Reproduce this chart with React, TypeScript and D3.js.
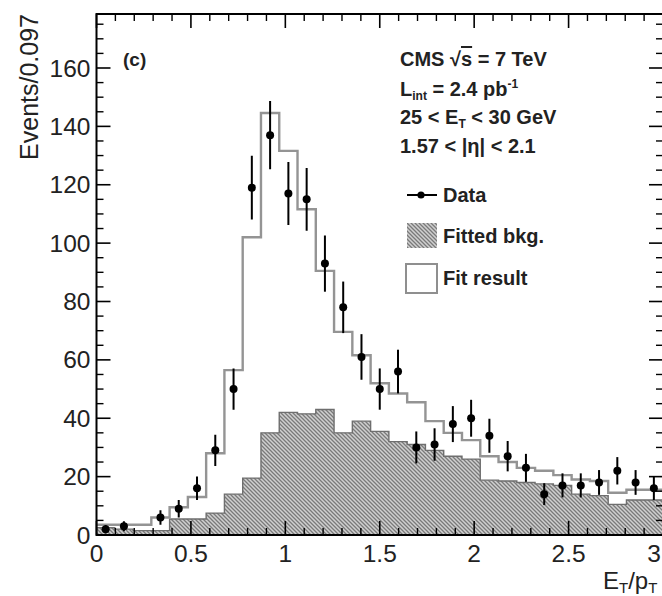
import React from "react";
import * as d3 from "d3";

// E_T/p_T distribution, 31 bins over [0, 3]
const xMin = 0;
const xMax = 3;
const nBins = 31;

// Observed events per bin
const events = [2, 3, 0, 6, 9, 16, 29, 50, 119, 137, 117, 115, 93, 78, 61, 50, 56, 30, 31, 38, 40, 34, 27, 23, 14, 17, 17, 18, 22, 18, 16];
// Total fit (signal + background) per bin
const fitTotal = [3.5, 3.5, 3.5, 6, 9.5, 13, 28, 56.5, 102, 144.6, 131.6, 111.6, 90.5, 69.6, 61.6, 52, 48.5, 45.5, 39, 35, 32.5, 27, 25, 23, 22, 20.5, 19, 18.5, 14.5, 15.5, 15.5];
// Fitted background per bin
const fittedBkg = [2.5, 2, 1.5, 1.5, 5.5, 5.5, 7.5, 14, 19.5, 35, 42, 41.5, 43, 35, 39, 35.5, 32, 31, 29, 27, 26, 18.8, 18.5, 18, 17.5, 17, 14, 13.5, 10.5, 12, 12];

const yTicks = [0, 20, 40, 60, 80, 100, 120, 140, 160];
const xTicks = [0, 0.5, 1, 1.5, 2, 2.5, 3];
const xTickLabels = ["0", "0.5", "1", "1.5", "2", "2.5", "3"];

const W = 662;
const H = 596;
const plot = { left: 96.5, right: 663, top: 14, bottom: 535 };
const FONT = "'Liberation Sans', Arial, Helvetica, sans-serif";

export default function App() {
  const x = d3.scaleLinear().domain([xMin, xMax]).range([plot.left, plot.right]);
  const y = d3.scaleLinear().domain([0, 178.5]).range([plot.bottom, plot.top]);

  const binW = (xMax - xMin) / nBins;
  const edges = d3.range(nBins + 1).map((i) => xMin + i * binW);
  const centers = d3.range(nBins).map((i) => xMin + (i + 0.5) * binW);

  const stepPts = (vals: number[]) =>
    edges.map((e, i) => [x(e), y(vals[Math.min(i, nBins - 1)])] as [number, number]);

  const line = d3.line<[number, number]>().curve(d3.curveStepAfter);
  const area = d3
    .area<[number, number]>()
    .curve(d3.curveStepAfter)
    .x((d) => d[0])
    .y0(y(0))
    .y1((d) => d[1]);

  const bkgPts = stepPts(fittedBkg);
  const fitPts = stepPts(fitTotal);

  // minor / major ticks
  const yMinor = d3.range(0, 180, 5).filter((v) => v % 20 !== 0);
  const xMinor = d3.range(0, 31).map((i) => i / 10).filter((v) => Math.abs(v * 2 - Math.round(v * 2)) > 1e-6);
  const majLen = 14;
  const minLen = 7;

  return (
    <div style={{ position: "absolute", left: 0, top: 0 }}>
      <svg width={W} height={H} style={{ display: "block", background: "#fff" }} fontFamily={FONT}>
        <defs>
          <pattern id="hatch" patternUnits="userSpaceOnUse" width={4} height={4}>
            <rect width={4} height={4} fill="#d0d0d0" />
            <path d="M0,0 L4,4 M-1,3 L1,5 M3,-1 L5,1" stroke="#7a7a7a" strokeWidth={1.3} />
          </pattern>
          <clipPath id="plotClip">
            <rect x={plot.left} y={plot.top} width={plot.right - plot.left} height={plot.bottom - plot.top} />
          </clipPath>
        </defs>

        <g clipPath="url(#plotClip)">
          {/* fitted background */}
          <path d={area(bkgPts) || ""} fill="url(#hatch)" />
          <path d={line(bkgPts) || ""} fill="none" stroke="#6e6e6e" strokeWidth={1.4} />
          {/* fit result */}
          <path d={line(fitPts) || ""} fill="none" stroke="#949494" strokeWidth={2.4} />
          {/* data with Poisson errors */}
          {events.map((v, i) =>
            v > 0 ? (
              <g key={i}>
                <line
                  x1={x(centers[i])}
                  x2={x(centers[i])}
                  y1={y(v + Math.sqrt(v))}
                  y2={y(Math.max(0, v - Math.sqrt(v)))}
                  stroke="#000"
                  strokeWidth={2}
                />
                <circle cx={x(centers[i])} cy={y(v)} r={4} fill="#000" />
              </g>
            ) : null
          )}
        </g>

        {/* frame */}
        <rect
          x={plot.left}
          y={plot.top}
          width={plot.right - plot.left}
          height={plot.bottom - plot.top}
          fill="none"
          stroke="#000"
          strokeWidth={2}
        />

        {/* y ticks, left and right */}
        {yTicks.map((v) => (
          <g key={"ym" + v}>
            <line x1={plot.left} x2={plot.left + majLen} y1={y(v)} y2={y(v)} stroke="#000" strokeWidth={1.6} />
            <line x1={plot.right} x2={plot.right - majLen} y1={y(v)} y2={y(v)} stroke="#000" strokeWidth={1.6} />
          </g>
        ))}
        {yMinor.map((v) => (
          <g key={"yn" + v}>
            <line x1={plot.left} x2={plot.left + minLen} y1={y(v)} y2={y(v)} stroke="#000" strokeWidth={1.4} />
            <line x1={plot.right} x2={plot.right - minLen} y1={y(v)} y2={y(v)} stroke="#000" strokeWidth={1.4} />
          </g>
        ))}
        {/* x ticks, bottom and top */}
        {xTicks.map((v) => (
          <g key={"xm" + v}>
            <line x1={x(v)} x2={x(v)} y1={plot.bottom} y2={plot.bottom - majLen} stroke="#000" strokeWidth={1.6} />
            <line x1={x(v)} x2={x(v)} y1={plot.top} y2={plot.top + majLen} stroke="#000" strokeWidth={1.6} />
          </g>
        ))}
        {xMinor.map((v) => (
          <g key={"xn" + v}>
            <line x1={x(v)} x2={x(v)} y1={plot.bottom} y2={plot.bottom - minLen} stroke="#000" strokeWidth={1.4} />
            <line x1={x(v)} x2={x(v)} y1={plot.top} y2={plot.top + minLen} stroke="#000" strokeWidth={1.4} />
          </g>
        ))}

        {/* tick labels */}
        {yTicks.map((v) => (
          <text key={"yl" + v} x={plot.left - 6} y={y(v)} dy="0.35em" textAnchor="end" fontSize={24.5} fill="#222">
            {v}
          </text>
        ))}
        {xTicks.map((v, i) => (
          <text key={"xl" + v} x={Math.min(x(v), 654)} y={562} textAnchor="middle" fontSize={24.5} fill="#222">
            {xTickLabels[i]}
          </text>
        ))}

        {/* axis titles */}
        <text transform={`translate(38,${plot.top}) rotate(-90)`} textAnchor="end" fontSize={25} fill="#222">
          Events/0.097
        </text>
        <text x={603} y={589} fontSize={24} fill="#222">
          E<tspan fontSize={15} dy={4}>T</tspan>
          <tspan dy={-4}>/p</tspan>
          <tspan fontSize={15} dy={4}>T</tspan>
        </text>

        {/* panel label */}
        <text x={123} y={66} fontSize={19} fontWeight="bold" fill="#222">
          (c)
        </text>

        {/* annotations */}
        <g fontSize={20} fontWeight="bold" fill="#222">
          <text x={400} y={66}>
            CMS √<tspan textDecoration="overline">s</tspan> = 7 TeV
          </text>
          <text x={400} y={96}>
            L<tspan fontSize={12} dy={4}>int</tspan>
            <tspan dy={-4}> = 2.4 pb</tspan>
            <tspan fontSize={12} dy={-8}>-1</tspan>
          </text>
          <text x={400} y={124}>
            25 &lt; E<tspan fontSize={12} dy={4}>T</tspan>
            <tspan dy={-4}> &lt; 30 GeV</tspan>
          </text>
          <text x={400} y={153}>1.57 &lt; |η| &lt; 2.1</text>
        </g>

        {/* legend */}
        <g fontSize={20} fontWeight="bold" fill="#222">
          <line x1={407} x2={437} y1={195} y2={195} stroke="#000" strokeWidth={2} />
          <circle cx={421} cy={195} r={3.6} fill="#000" />
          <text x={443} y={202}>Data</text>

          <rect x={407} y={223} width={30} height={25} fill="url(#hatch)" />
          <text x={443} y={243}>Fitted bkg.</text>

          <rect x={406} y={264} width={31} height={29} fill="#fff" stroke="#8f8f8f" strokeWidth={2} />
          <text x={443} y={285}>Fit result</text>
        </g>
      </svg>
    </div>
  );
}
